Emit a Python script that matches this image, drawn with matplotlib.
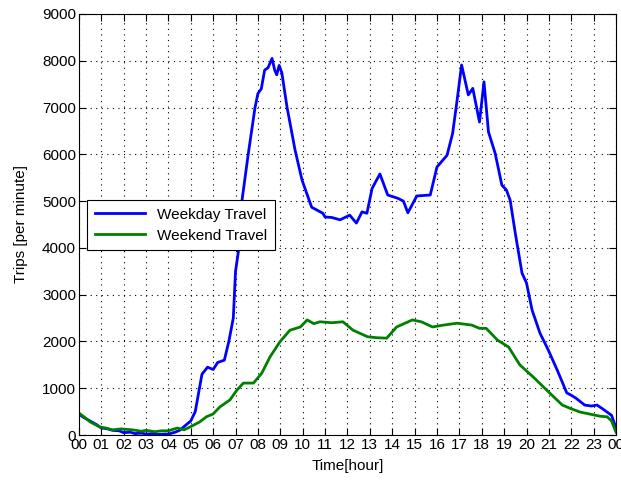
import matplotlib
matplotlib.use("Agg")
import matplotlib.pyplot as plt
import numpy as np

# weekday travel (hour, trips per minute)
weekday_h = [0.0, 0.2, 0.5, 0.8, 1.0, 1.3, 1.5, 1.8, 2.0, 2.3, 2.5, 2.8, 3.0, 3.3, 3.5,
             3.8, 4.0, 4.3, 4.5, 4.75, 5.0, 5.2, 5.35, 5.5, 5.75, 6.0, 6.2, 6.5, 6.7, 6.9,
             7.0, 7.15, 7.29, 7.56, 7.87, 8.0, 8.15, 8.3, 8.45, 8.63, 8.75, 8.84, 8.95,
             9.07, 9.3, 9.66, 9.97, 10.4, 10.9, 11.0, 11.3, 11.67, 12.1, 12.4, 12.65,
             12.87, 13.1, 13.45, 13.8, 14.25, 14.5, 14.7, 15.1, 15.7, 16.0, 16.45, 16.7,
             16.9, 17.1, 17.4, 17.6, 17.9, 18.1, 18.3, 18.6, 18.9, 19.1, 19.27, 19.5,
             19.8, 20.0, 20.25, 20.6, 20.97, 21.37, 21.8, 22.0, 22.2, 22.6, 22.9, 23.15,
             23.4, 23.6, 23.8, 24.0]
weekday_v = [450, 380, 300, 220, 150, 130, 100, 90, 50, 60, 30, 40, 20, 30, 10,
             20, 20, 60, 100, 200, 300, 500, 900, 1300, 1450, 1400, 1550, 1600, 2000, 2500,
             3500, 4000, 5020, 5980, 7000, 7300, 7400, 7800, 7850, 8050, 7800, 7700, 7900,
             7740, 7010, 6090, 5450, 4870, 4740, 4660, 4650, 4600, 4700, 4530, 4770,
             4740, 5270, 5580, 5130, 5060, 5000, 4750, 5110, 5130, 5730, 5980, 6450,
             7160, 7910, 7270, 7410, 6690, 7550, 6480, 6020, 5340, 5240, 5020, 4310,
             3460, 3250, 2670, 2180, 1820, 1390, 900, 850, 790, 640, 620, 640,
             560, 490, 420, 150]

# weekend travel
weekend_h = [0.0, 0.25, 0.5, 0.94, 1.2, 1.5, 1.9, 2.4, 2.8, 3.0, 3.4, 3.7, 4.0, 4.4, 4.7,
             4.96, 5.4, 5.7, 6.0, 6.3, 6.75, 7.06, 7.35, 7.8, 8.17, 8.54, 8.98, 9.43,
             9.9, 10.2, 10.5, 10.77, 11.3, 11.8, 12.25, 12.9, 13.3, 13.75, 14.2, 14.9,
             15.3, 15.8, 16.3, 16.9, 17.55, 17.9, 18.2, 18.7, 19.2, 19.7, 20.3, 20.9,
             21.6, 22.0, 22.4, 23.0, 23.3, 23.6, 23.8, 24.0]
weekend_v = [470, 380, 280, 170, 150, 110, 130, 110, 80, 100, 70, 90, 90, 150, 110,
             170, 280, 390, 450, 600, 750, 960, 1110, 1110, 1320, 1670, 1990, 2240,
             2310, 2460, 2380, 2420, 2400, 2420, 2240, 2100, 2080, 2070, 2310, 2460,
             2420, 2310, 2350, 2390, 2350, 2280, 2280, 2030, 1880, 1500, 1240, 960,
             640, 560, 490, 430, 400, 390, 300, 60]

hour_labels = ['%02d' % (i % 24) for i in range(25)]

plt.rcParams['font.family'] = ['Liberation Sans', 'DejaVu Sans']

fig = plt.figure(figsize=(6.21, 4.82), dpi=100)
ax = fig.add_axes([0.127, 0.0975, 0.865, 0.8735])

ax.plot(weekday_h, weekday_v, color='#0000ff', lw=2, label='Weekday Travel')
ax.plot(weekend_h, weekend_v, color='#008000', lw=2, label='Weekend Travel')

ax.set_xlim(0, 24)
ax.set_ylim(0, 9000)
ax.set_xticks(range(25))
ax.set_xticklabels(hour_labels)
ax.set_yticks(np.arange(0, 9001, 1000))
ax.tick_params(direction='in', top=True, right=True, labelsize=11, length=5, pad=2)
ax.grid(True, color='black', linestyle=(0, (1, 4)), linewidth=0.8)

ax.set_xlabel('Time[hour]', fontsize=11, labelpad=5)
ax.set_ylabel('Trips [per minute]', fontsize=11, labelpad=10)

leg = ax.legend(loc='upper left', bbox_to_anchor=(0.015, 0.558), fontsize=11,
                fancybox=False, edgecolor='black', framealpha=1, handlelength=3.3,
                borderaxespad=0, labelspacing=0.45, borderpad=0.5)
leg.get_frame().set_linewidth(0.8)

fig.savefig('out.png', dpi=100)
